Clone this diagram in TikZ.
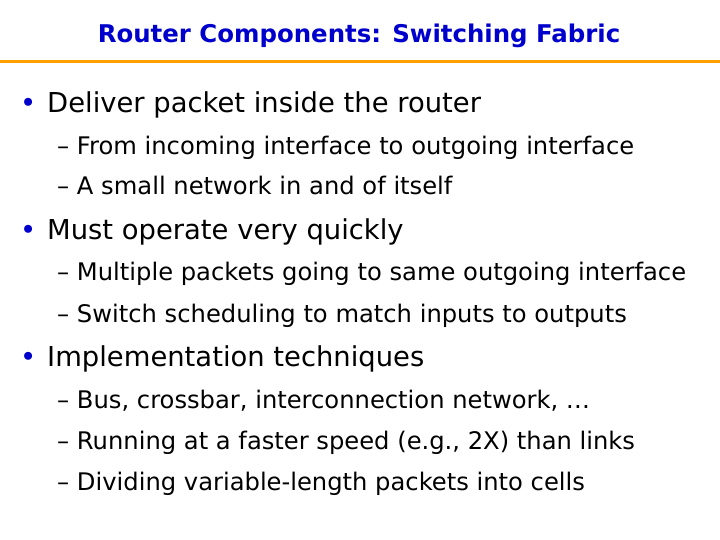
\documentclass[tikz,border=0pt]{standalone}
\usepackage{fontspec}
\setmainfont{DejaVu Sans}
\definecolor{ttl}{RGB}{0,0,204}
\definecolor{org}{RGB}{255,160,0}
\begin{document}
\begin{tikzpicture}[x=1bp,y=-1bp,
  lone/.style={anchor=base west,inner sep=0,font=\fontsize{27.5}{30}\selectfont},
  ltwo/.style={anchor=base west,inner sep=0,font=\fontsize{24.3}{28}\selectfont},
  bul/.style={anchor=base west,inner sep=0,text=ttl,font=\fontsize{27.5}{30}\selectfont}]
\useasboundingbox[fill=white] (0,0) rectangle (720,540);
\node[anchor=base,inner sep=0,text=ttl,font=\bfseries\fontsize{24.5}{28}\selectfont] (title) at (359,43) {Router Components: Switching Fabric};
\fill[org] (0,60) rectangle (720,63);
\node[bul] (b1) at (20,113) {•};
\node[lone] (t1) at (47,113) {Deliver packet inside the router};
\node[ltwo] (s11) at (57,155) {– From incoming interface to outgoing interface};
\node[ltwo] (s12) at (57,195) {– A small network in and of itself};
\node[bul] (b2) at (20,240) {•};
\node[lone] (t2) at (47,240) {Must operate very quickly};
\node[ltwo] (s21) at (57,281) {– Multiple packets going to same outgoing interface};
\node[ltwo] (s22) at (57,322) {– Switch scheduling to match inputs to outputs};
\node[bul] (b3) at (20,366) {•};
\node[lone] (t3) at (47,366) {Implementation techniques};
\node[ltwo] (s31) at (57,408) {– Bus, crossbar, interconnection network, …};
\node[ltwo] (s32) at (57,449) {– Running at a faster speed (e.g., 2X) than links};
\node[ltwo] (s33) at (57,490) {– Dividing variable-length packets into cells};
\end{tikzpicture}
\end{document}
